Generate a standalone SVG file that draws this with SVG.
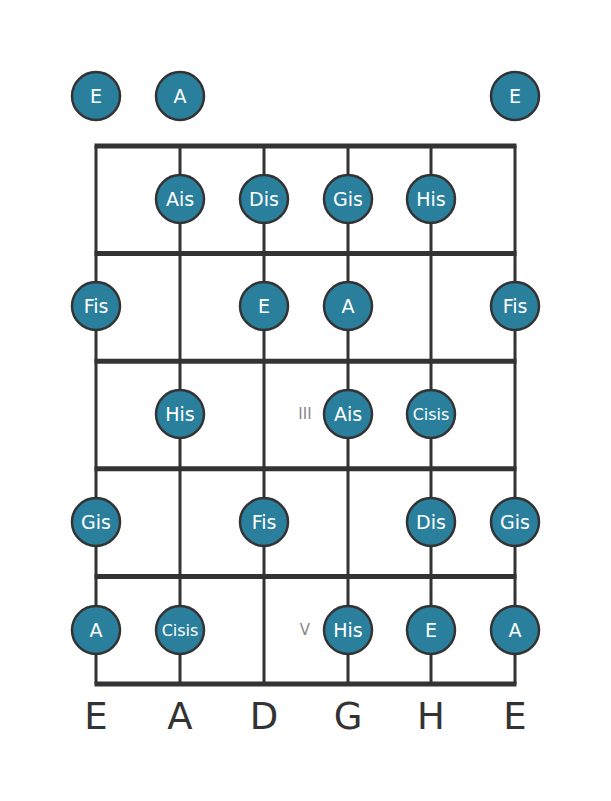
<svg xmlns="http://www.w3.org/2000/svg" width="611" height="801" viewBox="0 0 611 801">
<style>
.fret{stroke:#333;stroke-width:5;fill:none}
.str{stroke:#333;stroke-width:3;fill:none}
.n circle{fill:#2a7f9d;stroke:#333;stroke-width:2.5}
.n text{fill:#fff;font-family:"DejaVu Sans",sans-serif;font-size:19px;text-anchor:middle;dominant-baseline:central}
.n text.s{font-size:16px}
.lab{fill:#333;font-family:"DejaVu Sans",sans-serif;font-size:37px;text-anchor:middle}
.pos{fill:#888;font-family:"DejaVu Sans",sans-serif;font-size:15px;text-anchor:middle;dominant-baseline:central}
</style>
<rect width="611" height="801" fill="#fff"/>
<g id="board">
<line class="str" x1="96" y1="146" x2="96" y2="684"/>
<line class="str" x1="180" y1="146" x2="180" y2="684"/>
<line class="str" x1="264" y1="146" x2="264" y2="684"/>
<line class="str" x1="348" y1="146" x2="348" y2="684"/>
<line class="str" x1="431" y1="146" x2="431" y2="684"/>
<line class="str" x1="515" y1="146" x2="515" y2="684"/>
<line class="fret" x1="94.5" y1="146" x2="516.5" y2="146"/>
<line class="fret" x1="94.5" y1="253.6" x2="516.5" y2="253.6"/>
<line class="fret" x1="94.5" y1="361.2" x2="516.5" y2="361.2"/>
<line class="fret" x1="94.5" y1="468.8" x2="516.5" y2="468.8"/>
<line class="fret" x1="94.5" y1="576.4" x2="516.5" y2="576.4"/>
<line class="fret" x1="94.5" y1="684" x2="516.5" y2="684"/>
</g>
<g id="labels">
<text class="lab" x="96" y="729">E</text>
<text class="lab" x="180" y="729">A</text>
<text class="lab" x="264" y="729">D</text>
<text class="lab" x="348" y="729">G</text>
<text class="lab" x="431" y="729">H</text>
<text class="lab" x="515" y="729">E</text>
<text class="pos" x="305" y="414">III</text>
<text class="pos" x="305" y="630">V</text>
</g>
<g id="n-open-E1" class="n"><circle cx="96" cy="96" r="24"/><text x="96" y="96">E</text></g>
<g id="n-open-A" class="n"><circle cx="180" cy="96" r="24"/><text x="180" y="96">A</text></g>
<g id="n-open-E6" class="n"><circle cx="515" cy="96" r="24"/><text x="515" y="96">E</text></g>
<g id="n-1-A" class="n"><circle cx="180" cy="199" r="24"/><text x="180" y="199">Ais</text></g>
<g id="n-1-D" class="n"><circle cx="264" cy="199" r="24"/><text x="264" y="199">Dis</text></g>
<g id="n-1-G" class="n"><circle cx="348" cy="199" r="24"/><text x="348" y="199">Gis</text></g>
<g id="n-1-H" class="n"><circle cx="431" cy="199" r="24"/><text x="431" y="199">His</text></g>
<g id="n-2-E1" class="n"><circle cx="96" cy="306" r="24"/><text x="96" y="306">Fis</text></g>
<g id="n-2-D" class="n"><circle cx="264" cy="306" r="24"/><text x="264" y="306">E</text></g>
<g id="n-2-G" class="n"><circle cx="348" cy="306" r="24"/><text x="348" y="306">A</text></g>
<g id="n-2-E6" class="n"><circle cx="515" cy="306" r="24"/><text x="515" y="306">Fis</text></g>
<g id="n-3-A" class="n"><circle cx="180" cy="414" r="24"/><text x="180" y="414">His</text></g>
<g id="n-3-G" class="n"><circle cx="348" cy="414" r="24"/><text x="348" y="414">Ais</text></g>
<g id="n-3-H" class="n"><circle cx="431" cy="414" r="24"/><text class="s" x="431" y="414">Cisis</text></g>
<g id="n-4-E1" class="n"><circle cx="96" cy="522" r="24"/><text x="96" y="522">Gis</text></g>
<g id="n-4-D" class="n"><circle cx="264" cy="522" r="24"/><text x="264" y="522">Fis</text></g>
<g id="n-4-H" class="n"><circle cx="431" cy="522" r="24"/><text x="431" y="522">Dis</text></g>
<g id="n-4-E6" class="n"><circle cx="515" cy="522" r="24"/><text x="515" y="522">Gis</text></g>
<g id="n-5-E1" class="n"><circle cx="96" cy="630" r="24"/><text x="96" y="630">A</text></g>
<g id="n-5-A" class="n"><circle cx="180" cy="630" r="24"/><text class="s" x="180" y="630">Cisis</text></g>
<g id="n-5-G" class="n"><circle cx="348" cy="630" r="24"/><text x="348" y="630">His</text></g>
<g id="n-5-H" class="n"><circle cx="431" cy="630" r="24"/><text x="431" y="630">E</text></g>
<g id="n-5-E6" class="n"><circle cx="515" cy="630" r="24"/><text x="515" y="630">A</text></g>
</svg>
